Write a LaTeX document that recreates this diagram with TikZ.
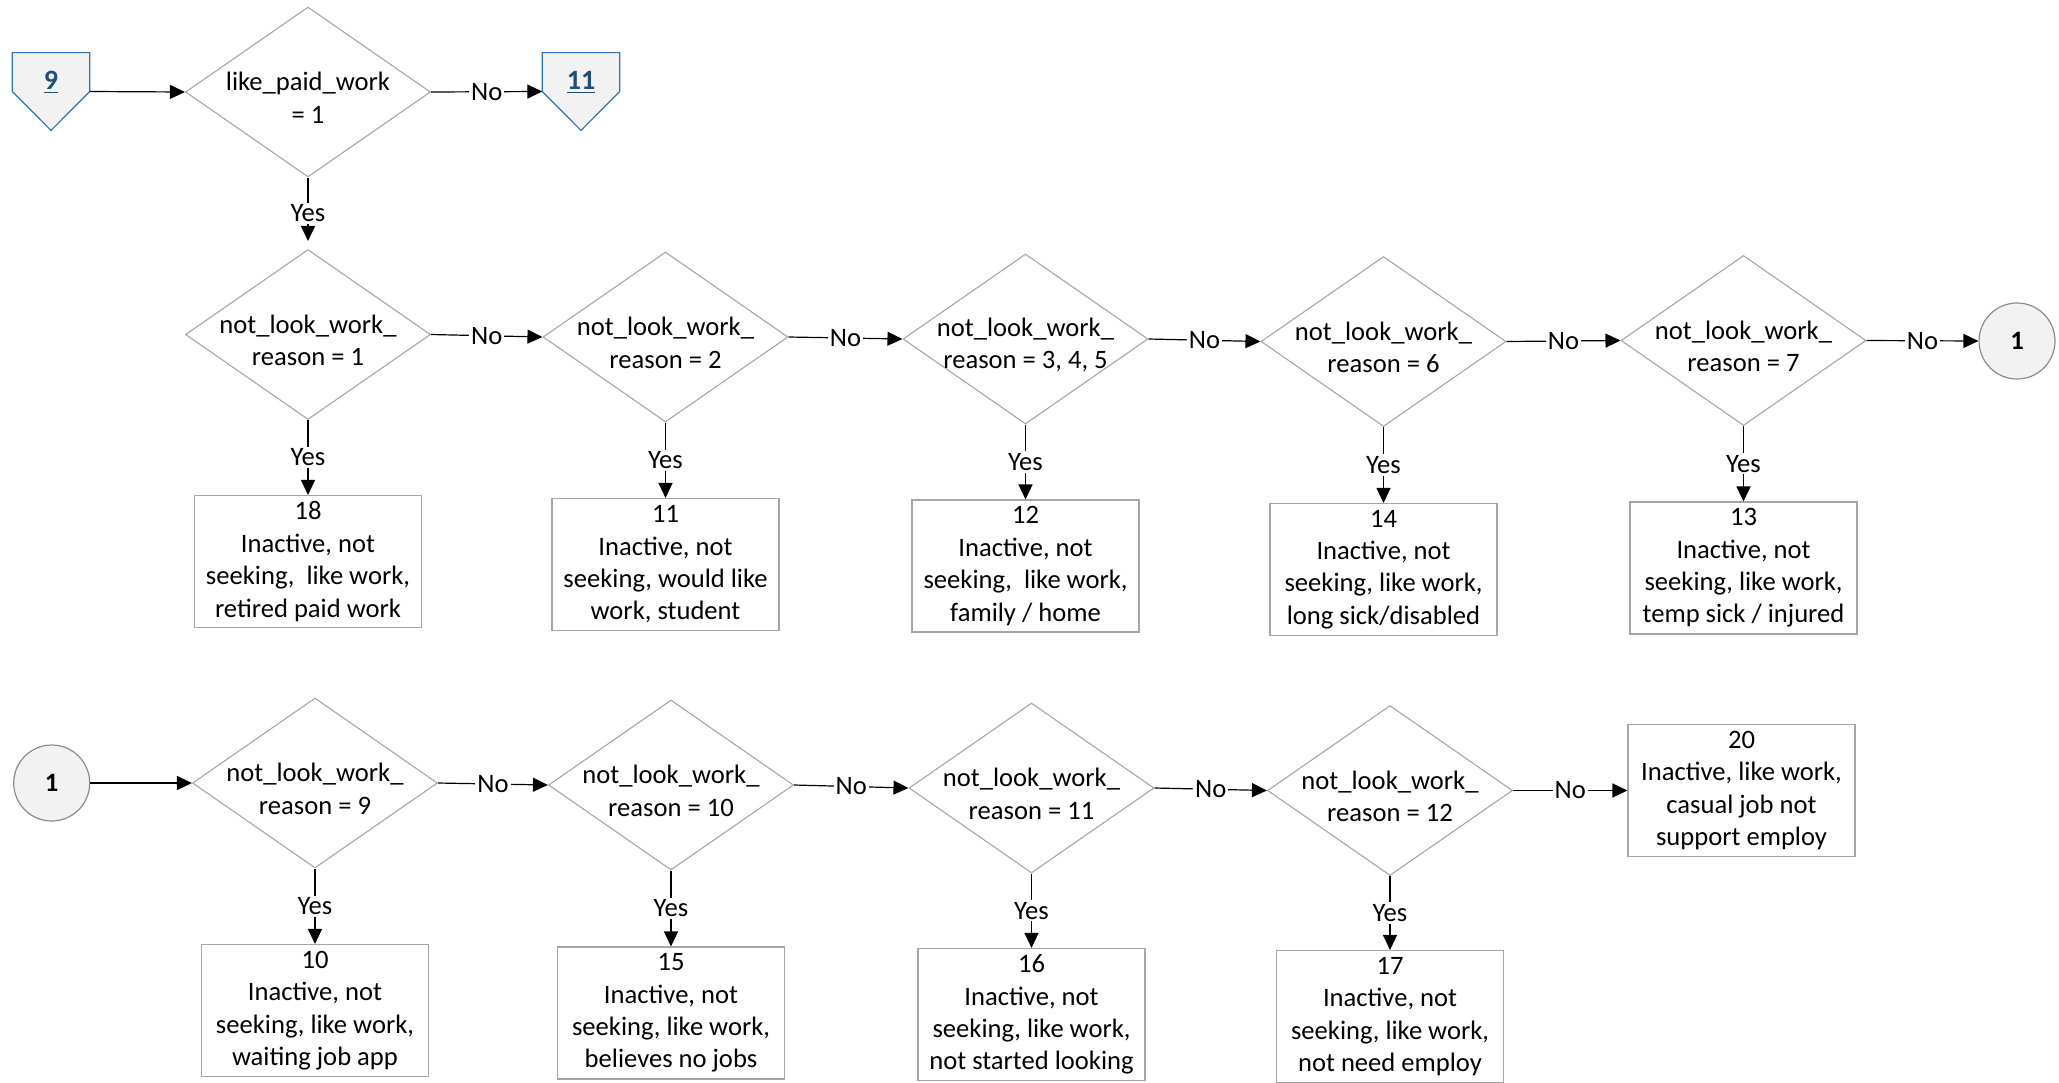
\documentclass[tikz,border=0pt]{standalone}
\usepackage{fontspec}
\setmainfont{Carlito}
\usetikzlibrary{shapes.geometric,arrows.meta}
\definecolor{shapegray}{HTML}{A6A6A6}
\definecolor{circgray}{HTML}{8C8C8C}
\definecolor{lightfill}{HTML}{F2F2F2}
\definecolor{linkblue}{HTML}{2E75B6}
\definecolor{linktext}{HTML}{1F4E79}
\begin{document}
\begin{tikzpicture}[x=0.5pt,y=-0.5pt,
  dia/.style={diamond, draw=shapegray, line width=0.55pt, minimum width=122.5pt, minimum height=85pt, inner sep=0pt},
  dtext/.style={align=center, inner sep=0pt, font=\fontsize{13.3pt}{16.3pt}\selectfont},
  outbox/.style={rectangle, draw=shapegray, line width=0.55pt, minimum width=113.5pt, minimum height=66pt, inner sep=1pt, align=center, font=\fontsize{13.3pt}{16.2pt}\selectfont},
  offpage/.style={rectangle, draw=none, minimum width=38.3pt, minimum height=38.5pt, inner sep=0pt},
  offdraw/.style={draw=linkblue, fill=lightfill, line width=0.6pt},
  linklbl/.style={inner sep=0pt, text=linktext, font=\fontsize{14pt}{14pt}\selectfont\bfseries},
  conn/.style={draw=black, line width=0.6pt, -{Triangle[length=7.5pt,width=7pt]}},
  lbl/.style={fill=white, inner sep=1pt, font=\fontsize{13.3pt}{14pt}\selectfont},
  circ/.style={circle, draw=circgray, fill=lightfill, line width=0.6pt, minimum size=38pt, inner sep=0pt, font=\fontsize{13.3pt}{14pt}\selectfont\bfseries}
]
\useasboundingbox (0,0) rectangle (2059,1082);

% ---------- top row ----------
\node[offpage] (p9) at (51,91.5) {};
\draw[offdraw] (p9.north west) -- (p9.north east) -- (p9.east) -- (p9.south) -- (p9.west) -- cycle;
\node[linklbl] (t9) at ([yshift=4.7pt]p9.center) {\underline{9}};

\node[dia] (d0) at (308,92) {};
\node[dtext] (t0) at ([yshift=-3pt]d0.center) {like\_paid\_work\\= 1};

\node[offpage] (p11) at (581,91.5) {};
\draw[offdraw] (p11.north west) -- (p11.north east) -- (p11.east) -- (p11.south) -- (p11.west) -- cycle;
\node[linklbl] (t11) at ([yshift=4.7pt]p11.center) {\underline{11}};

% ---------- row 1 ----------
\node[dia] (d1) at (308,334.5) {};
\node[dtext] (td1) at ([yshift=-3pt]d1.center) {not\_look\_work\_\\reason = 1};
\node[dia] (d2) at (665.5,337) {};
\node[dtext] (td2) at ([yshift=-3pt]d2.center) {not\_look\_work\_\\reason = 2};
\node[dia] (d3) at (1025.5,339) {};
\node[dtext] (td3) at ([yshift=-3pt]d3.center) {not\_look\_work\_\\reason = 3, 4, 5};
\node[dia] (d4) at (1383.5,341.5) {};
\node[dtext] (td4) at ([yshift=-3pt]d4.center) {not\_look\_work\_\\reason = 6};
\node[dia] (d5) at (1743.5,340.5) {};
\node[dtext] (td5) at ([yshift=-3pt]d5.center) {not\_look\_work\_\\reason = 7};
\node[circ] (c1a) at (2017,341) {1};

\node[outbox] (b18) at (308,561.5) {18\\Inactive, not\\seeking,~ like work,\\retired paid work};
\node[outbox] (b11) at (665.5,564.5) {11\\Inactive, not\\seeking, would like\\work, student};
\node[outbox] (b12) at (1025.5,566) {12\\Inactive, not\\seeking,~ like work,\\family / home};
\node[outbox] (b14) at (1383.5,569.5) {14\\Inactive, not\\seeking, like work,\\long sick/disabled};
\node[outbox] (b13) at (1743.5,568) {13\\Inactive, not\\seeking, like work,\\temp sick / injured};

% ---------- row 2 ----------
\node[circ] (c1b) at (51.7,783) {1};
\node[dia] (d6) at (315,783) {};
\node[dtext] (td6) at ([yshift=-3pt]d6.center) {not\_look\_work\_\\reason = 9};
\node[dia] (d7) at (671,785) {};
\node[dtext] (td7) at ([yshift=-3pt]d7.center) {not\_look\_work\_\\reason = 10};
\node[dia] (d8) at (1031.5,788) {};
\node[dtext] (td8) at ([yshift=-3pt]d8.center) {not\_look\_work\_\\reason = 11};
\node[dia] (d9) at (1390,790.5) {};
\node[dtext] (td9) at ([yshift=-3pt]d9.center) {not\_look\_work\_\\reason = 12};
\node[outbox] (b20) at (1741.5,790.5) {20\\Inactive, like work,\\casual job not\\support employ};

\node[outbox] (b10) at (315,1010.5) {10\\Inactive, not\\seeking, like work,\\waiting job app};
\node[outbox] (b15) at (671,1013) {15\\Inactive, not\\seeking, like work,\\believes no jobs};
\node[outbox] (b16) at (1031.5,1014.5) {16\\Inactive, not\\seeking, like work,\\not started looking};
\node[outbox] (b17) at (1390,1016.5) {17\\Inactive, not\\seeking, like work,\\not need employ};

% ---------- connectors ----------
\draw[conn] (p9.east) -- (d0.west);
\draw[conn] (d0.east) -- node[lbl] {No} (p11.west);
\draw[conn, shorten >=4pt] (d0.south) -- node[lbl] {Yes} (d1.north);

\draw[conn] (d1.east) -- node[lbl] {No} (d2.west);
\draw[conn] (d2.east) -- node[lbl] {No} (d3.west);
\draw[conn] (d3.east) -- node[lbl] {No} (d4.west);
\draw[conn] (d4.east) -- node[lbl] {No} (d5.west);
\draw[conn] (d5.east) -- node[lbl] {No} (c1a.west);

\draw[conn] (d1.south) -- node[lbl] {Yes} (b18.north);
\draw[conn] (d2.south) -- node[lbl] {Yes} (b11.north);
\draw[conn] (d3.south) -- node[lbl] {Yes} (b12.north);
\draw[conn] (d4.south) -- node[lbl] {Yes} (b14.north);
\draw[conn] (d5.south) -- node[lbl] {Yes} (b13.north);

\draw[conn] (c1b.east) -- (d6.west);
\draw[conn] (d6.east) -- node[lbl] {No} (d7.west);
\draw[conn] (d7.east) -- node[lbl] {No} (d8.west);
\draw[conn] (d8.east) -- node[lbl] {No} (d9.west);
\draw[conn] (d9.east) -- node[lbl] {No} (b20.west);

\draw[conn] (d6.south) -- node[lbl] {Yes} (b10.north);
\draw[conn] (d7.south) -- node[lbl] {Yes} (b15.north);
\draw[conn] (d8.south) -- node[lbl] {Yes} (b16.north);
\draw[conn] (d9.south) -- node[lbl] {Yes} (b17.north);
\end{tikzpicture}
\end{document}
